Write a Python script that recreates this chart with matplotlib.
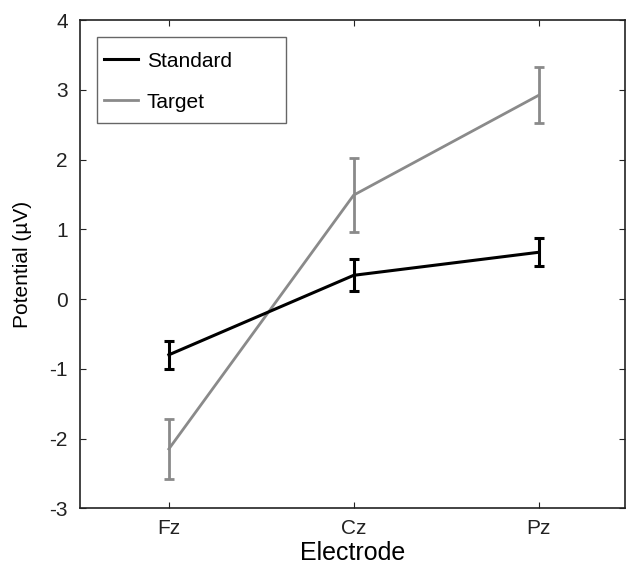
import matplotlib
matplotlib.use("Agg")
import matplotlib.pyplot as plt
from matplotlib.patches import Rectangle

# ERP amplitudes per electrode
electrodes = ["Fz", "Cz", "Pz"]
standard_mean = [-0.80, 0.34, 0.67]
standard_err = [0.20, 0.23, 0.20]
target_mean = [-2.15, 1.49, 2.92]
target_err = [0.43, 0.53, 0.40]

plt.rcParams['font.family'] = ['Liberation Sans', 'DejaVu Sans']
plt.rcParams['axes.unicode_minus'] = False

fig = plt.figure(figsize=(6.26, 5.73), dpi=100)
ax = fig.add_axes([0.128, 0.113, 0.871, 0.852])

x = list(range(1, len(electrodes) + 1))

ax.errorbar(x, standard_mean, yerr=standard_err, color="black", lw=2.2,
            elinewidth=2.2, capsize=3.3, capthick=2.2, label="Standard", zorder=3)
ax.errorbar(x, target_mean, yerr=target_err, color="#8a8a8a", lw=2.0,
            elinewidth=2.0, capsize=3.3, capthick=2.0, label="Target", zorder=2)

ax.set_xlim(0.52, 3.47)
ax.set_ylim(-3, 4)
ax.set_xticks(x)
ax.set_xticklabels(electrodes)
ax.set_yticks(range(-3, 5))
ax.tick_params(direction="in", length=4, width=0.8, top=True, right=True,
               labelsize=15, colors="#222222", pad=9)
ax.tick_params(axis="x", pad=8)
for s in ax.spines.values():
    s.set_linewidth(1.2)
    s.set_color("#222222")

ax.set_xlabel("Electrode", fontsize=18, labelpad=2)
ax.set_ylabel("Potential (\u00b5V)", fontsize=15, labelpad=12)

# legend box is wider than its contents, so draw the frame separately
ax.add_patch(Rectangle((0.031, 0.789), 0.347, 0.176, transform=ax.transAxes,
                       facecolor="white", edgecolor="#666666", lw=1.0, zorder=4))
handles, labels = ax.get_legend_handles_labels()
handles = [h[0] for h in handles]
leg = ax.legend(handles, labels, loc="upper left", fontsize=15,
                bbox_to_anchor=(0.044, 0.935), borderpad=0.0, labelspacing=1.05,
                handlelength=1.65, handletextpad=0.4, borderaxespad=0,
                frameon=False)
leg.set_zorder(5)

fig.savefig("out.png", dpi=100)
